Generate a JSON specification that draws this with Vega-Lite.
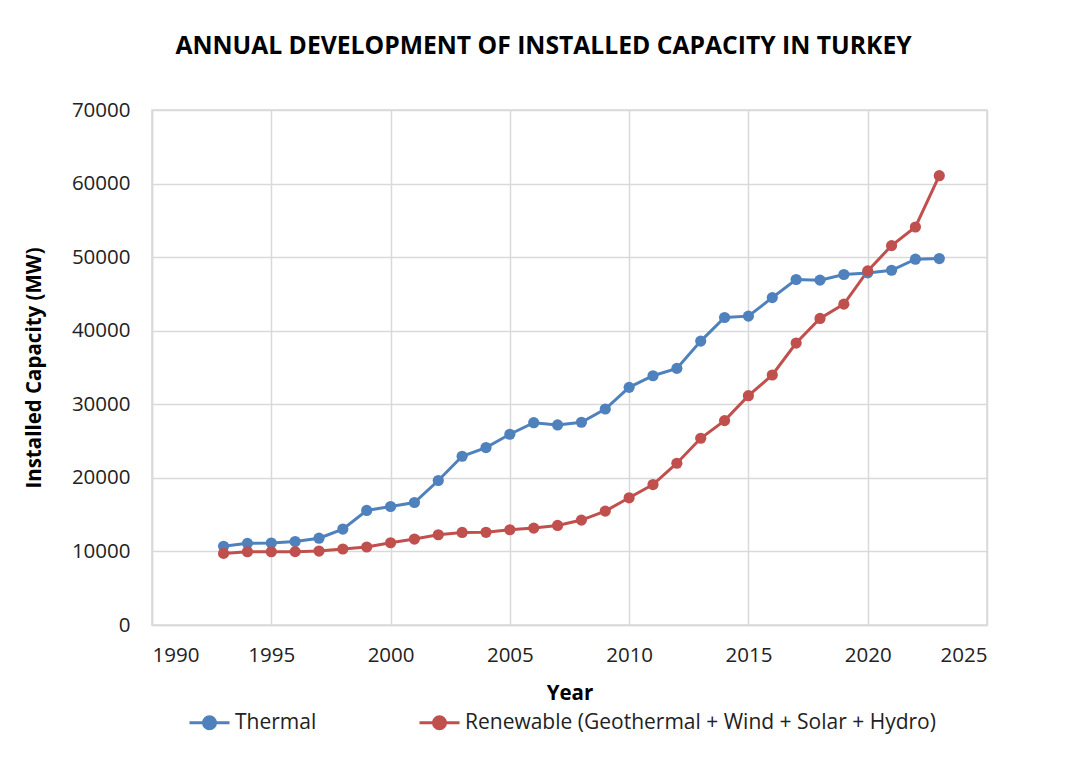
{
  "$schema": "https://vega.github.io/schema/vega-lite/v6.json",
  "autosize": {"type": "none"},
  "width": 835,
  "height": 515,
  "padding": {"left": 152, "top": 110, "right": 84, "bottom": 133},
  "background": "white",
  "title": {
    "text": "ANNUAL DEVELOPMENT OF INSTALLED CAPACITY IN TURKEY",
    "font": "Open Sans",
    "fontSize": 24.7,
    "fontWeight": "bold",
    "color": "#000000",
    "offset": 41,
    "dx": -26,
    "anchor": "middle"
  },
  "data": {
    "values": [
      {"year": 1993, "series": "Thermal", "mw": 10700},
      {"year": 1994, "series": "Thermal", "mw": 11100},
      {"year": 1995, "series": "Thermal", "mw": 11150},
      {"year": 1996, "series": "Thermal", "mw": 11350},
      {"year": 1997, "series": "Thermal", "mw": 11800},
      {"year": 1998, "series": "Thermal", "mw": 13040},
      {"year": 1999, "series": "Thermal", "mw": 15570},
      {"year": 2000, "series": "Thermal", "mw": 16110},
      {"year": 2001, "series": "Thermal", "mw": 16650},
      {"year": 2002, "series": "Thermal", "mw": 19640},
      {"year": 2003, "series": "Thermal", "mw": 22940},
      {"year": 2004, "series": "Thermal", "mw": 24120},
      {"year": 2005, "series": "Thermal", "mw": 25930},
      {"year": 2006, "series": "Thermal", "mw": 27500},
      {"year": 2007, "series": "Thermal", "mw": 27190},
      {"year": 2008, "series": "Thermal", "mw": 27560},
      {"year": 2009, "series": "Thermal", "mw": 29360},
      {"year": 2010, "series": "Thermal", "mw": 32300},
      {"year": 2011, "series": "Thermal", "mw": 33880},
      {"year": 2012, "series": "Thermal", "mw": 34880},
      {"year": 2013, "series": "Thermal", "mw": 38590},
      {"year": 2014, "series": "Thermal", "mw": 41800},
      {"year": 2015, "series": "Thermal", "mw": 41980},
      {"year": 2016, "series": "Thermal", "mw": 44500},
      {"year": 2017, "series": "Thermal", "mw": 46960},
      {"year": 2018, "series": "Thermal", "mw": 46870},
      {"year": 2019, "series": "Thermal", "mw": 47640},
      {"year": 2020, "series": "Thermal", "mw": 47860},
      {"year": 2021, "series": "Thermal", "mw": 48220},
      {"year": 2022, "series": "Thermal", "mw": 49720},
      {"year": 2023, "series": "Thermal", "mw": 49810},
      {"year": 1993, "series": "Renewable (Geothermal + Wind + Solar + Hydro)", "mw": 9730},
      {"year": 1994, "series": "Renewable (Geothermal + Wind + Solar + Hydro)", "mw": 9960},
      {"year": 1995, "series": "Renewable (Geothermal + Wind + Solar + Hydro)", "mw": 9960},
      {"year": 1996, "series": "Renewable (Geothermal + Wind + Solar + Hydro)", "mw": 9970},
      {"year": 1997, "series": "Renewable (Geothermal + Wind + Solar + Hydro)", "mw": 10050},
      {"year": 1998, "series": "Renewable (Geothermal + Wind + Solar + Hydro)", "mw": 10330},
      {"year": 1999, "series": "Renewable (Geothermal + Wind + Solar + Hydro)", "mw": 10600},
      {"year": 2000, "series": "Renewable (Geothermal + Wind + Solar + Hydro)", "mw": 11180},
      {"year": 2001, "series": "Renewable (Geothermal + Wind + Solar + Hydro)", "mw": 11680},
      {"year": 2002, "series": "Renewable (Geothermal + Wind + Solar + Hydro)", "mw": 12270},
      {"year": 2003, "series": "Renewable (Geothermal + Wind + Solar + Hydro)", "mw": 12580},
      {"year": 2004, "series": "Renewable (Geothermal + Wind + Solar + Hydro)", "mw": 12600},
      {"year": 2005, "series": "Renewable (Geothermal + Wind + Solar + Hydro)", "mw": 12950},
      {"year": 2006, "series": "Renewable (Geothermal + Wind + Solar + Hydro)", "mw": 13170},
      {"year": 2007, "series": "Renewable (Geothermal + Wind + Solar + Hydro)", "mw": 13530},
      {"year": 2008, "series": "Renewable (Geothermal + Wind + Solar + Hydro)", "mw": 14260},
      {"year": 2009, "series": "Renewable (Geothermal + Wind + Solar + Hydro)", "mw": 15480},
      {"year": 2010, "series": "Renewable (Geothermal + Wind + Solar + Hydro)", "mw": 17290},
      {"year": 2011, "series": "Renewable (Geothermal + Wind + Solar + Hydro)", "mw": 19090},
      {"year": 2012, "series": "Renewable (Geothermal + Wind + Solar + Hydro)", "mw": 21990},
      {"year": 2013, "series": "Renewable (Geothermal + Wind + Solar + Hydro)", "mw": 25380},
      {"year": 2014, "series": "Renewable (Geothermal + Wind + Solar + Hydro)", "mw": 27780},
      {"year": 2015, "series": "Renewable (Geothermal + Wind + Solar + Hydro)", "mw": 31170},
      {"year": 2016, "series": "Renewable (Geothermal + Wind + Solar + Hydro)", "mw": 33980},
      {"year": 2017, "series": "Renewable (Geothermal + Wind + Solar + Hydro)", "mw": 38320},
      {"year": 2018, "series": "Renewable (Geothermal + Wind + Solar + Hydro)", "mw": 41670},
      {"year": 2019, "series": "Renewable (Geothermal + Wind + Solar + Hydro)", "mw": 43610},
      {"year": 2020, "series": "Renewable (Geothermal + Wind + Solar + Hydro)", "mw": 48130},
      {"year": 2021, "series": "Renewable (Geothermal + Wind + Solar + Hydro)", "mw": 51570},
      {"year": 2022, "series": "Renewable (Geothermal + Wind + Solar + Hydro)", "mw": 54100},
      {"year": 2023, "series": "Renewable (Geothermal + Wind + Solar + Hydro)", "mw": 61070}
    ]
  },
  "encoding": {
    "x": {
      "field": "year",
      "type": "quantitative",
      "title": "Year",
      "scale": {"domain": [1990, 2025], "nice": false, "zero": false},
      "axis": {
        "values": [1990, 1995, 2000, 2005, 2010, 2015, 2020, 2025],
        "format": "d",
        "labelPadding": 20,
        "titlePadding": 18
      }
    },
    "y": {
      "field": "mw",
      "type": "quantitative",
      "title": "Installed Capacity (MW)",
      "scale": {"domain": [0, 70000], "nice": false},
      "axis": {
        "values": [0, 10000, 20000, 30000, 40000, 50000, 60000, 70000],
        "format": "d",
        "labelPadding": 22,
        "titlePadding": 27
      }
    },
    "color": {
      "field": "series",
      "type": "nominal",
      "sort": ["Thermal", "Renewable (Geothermal + Wind + Solar + Hydro)"],
      "scale": {
        "domain": ["Thermal", "Renewable (Geothermal + Wind + Solar + Hydro)"],
        "range": ["#4f81bd", "#c0504d"]
      },
      "legend": {
        "title": null,
        "orient": "none",
        "direction": "horizontal",
        "legendX": 36,
        "legendY": 591,
        "symbolType": "M-1,0H1M-0.3,0A0.3,0.3 0 1,1 0.3,0A0.3,0.3 0 1,1 -0.3,0Z",
        "symbolSize": 1600,
        "symbolStrokeWidth": 3,
        "labelFont": "Open Sans",
        "labelFontSize": 21,
        "labelColor": "#222222",
        "labelLimit": 0,
        "labelOffset": 4,
        "columnPadding": 96
      }
    }
  },
  "layer": [
    {"mark": {"type": "line", "strokeWidth": 3}},
    {"mark": {"type": "point", "filled": true, "size": 125, "opacity": 1}}
  ],
  "config": {
    "view": {"stroke": "#d9d9d9", "strokeWidth": 1.5},
    "axis": {
      "grid": true,
      "gridColor": "#d9d9d9",
      "gridWidth": 1.5,
      "domainColor": "#d9d9d9",
      "domainWidth": 1.5,
      "ticks": false,
      "labelFont": "Open Sans",
      "labelFontSize": 20.5,
      "labelColor": "#222222",
      "titleFont": "Open Sans",
      "titleFontSize": 20.5,
      "titleFontWeight": "bold",
      "titleColor": "#000000"
    }
  }
}
